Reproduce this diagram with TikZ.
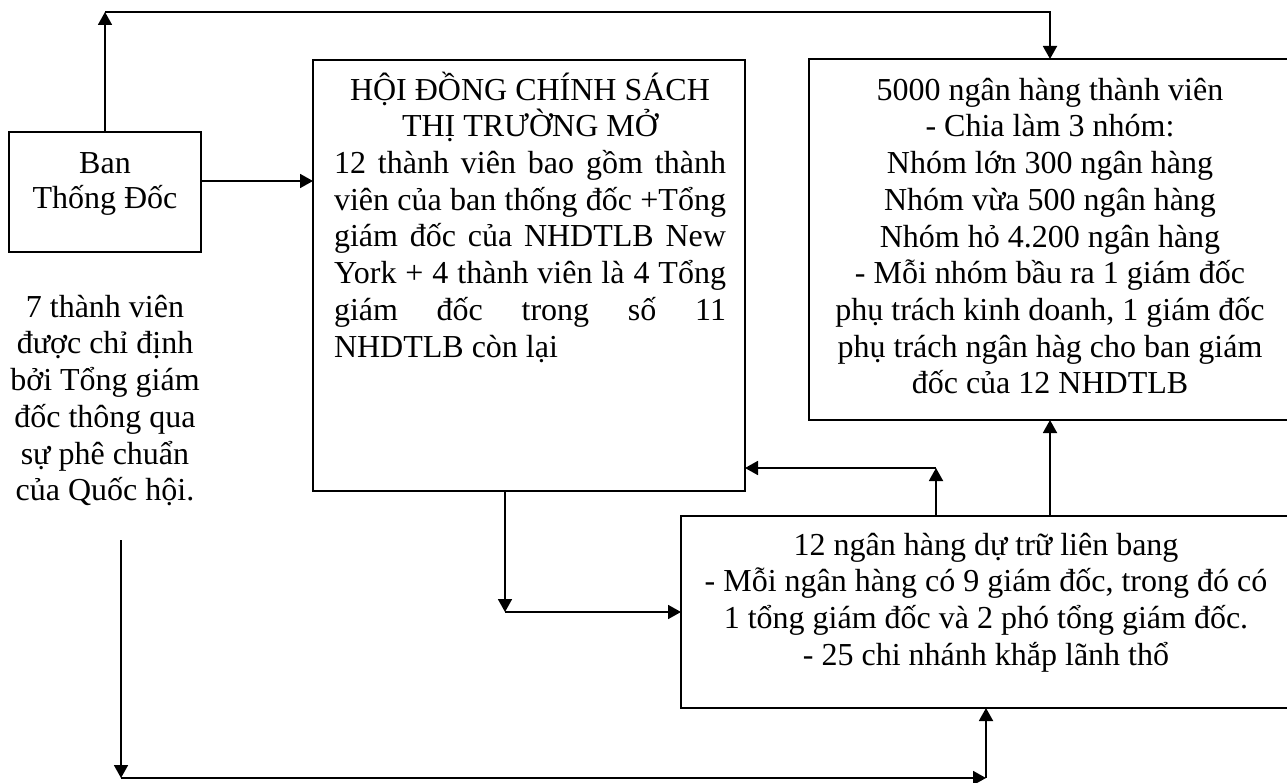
\documentclass[tikz,border=0pt]{standalone}
\usepackage{fontspec}
\setmainfont{Liberation Serif}
\usetikzlibrary{arrows.meta}
\begin{document}
\begin{tikzpicture}[x=1pt,y=-1pt,
  box/.style={draw, line width=1.8pt, inner sep=0pt, outer sep=0pt, anchor=north west},
  conn/.style={line width=1.8pt, -{Triangle[length=13pt,width=14pt]}},
  txt/.style={font=\fontsize{32}{36.7}\selectfont, inner sep=0pt, anchor=north, align=center}]
\useasboundingbox (0,0) rectangle (1287,783);
% boxes
\node[box, minimum width=192pt, minimum height=120pt] (ban) at (9,132) {};
\node[box, minimum width=432pt, minimum height=431pt] (hd) at (313,60) {};
\node[box, minimum width=482pt, minimum height=361pt] (m5000) at (809,59) {};
\node[box, minimum width=610pt, minimum height=192pt] (ft12) at (681,516) {};
% texts
\node[txt, font=\fontsize{32}{35}\selectfont] (bantext) at (105,143) {\rule{0pt}{30pt}Ban\\Thống Đốc};
\node[txt] (lefttext) at (105,287) {\rule{0pt}{30pt}7 thành viên\\được chỉ định\\bởi Tổng giám\\đốc thông qua\\sự phê chuẩn\\của Quốc hội.};
\node[txt] (hdtext) at (530,70) {\rule{0pt}{30pt}HỘI ĐỒNG CHÍNH SÁCH\\THỊ TRƯỜNG MỞ\\
\makebox[392pt][s]{12 thành viên bao gồm thành}\\
\makebox[392pt][s]{viên của ban thống đốc +Tổng}\\
\makebox[392pt][s]{giám đốc của NHDTLB New}\\
\makebox[392pt][s]{York + 4 thành viên là 4 Tổng}\\
\makebox[392pt][s]{giám đốc trong số 11}\\
\makebox[392pt][l]{NHDTLB còn lại}};
\node[txt] (m5000text) at (1050,70) {\rule{0pt}{30pt}5000 ngân hàng thành viên\\- Chia làm 3 nhóm:\\Nhóm lớn 300 ngân hàng\\Nhóm vừa 500 ngân hàng\\Nhóm hỏ 4.200 ngân hàng\\- Mỗi nhóm bầu ra 1 giám đốc\\phụ trách kinh doanh, 1 giám đốc\\phụ trách ngân hàg cho ban giám\\đốc của 12 NHDTLB};
\node[txt] (ft12text) at (986,525) {\rule{0pt}{30pt}12 ngân hàng dự trữ liên bang\\- Mỗi ngân hàng có 9 giám đốc, trong đó có\\1 tổng giám đốc và 2 phó tổng giám đốc.\\- 25 chi nhánh khắp lãnh thổ};
% connectors
\coordinate (tl) at (105,12);
\draw[conn] (ban.north) -- (tl);
\draw[conn] (tl) -| (m5000.north);
\coordinate (bh) at (0,181);
\draw[conn] (ban.east |- bh) -- (hd.west |- bh);
\coordinate (hdc) at (505,612);
\draw[conn] (hd.south -| hdc) -- (hdc);
\draw[conn] (hdc) -- (ft12.west |- hdc);
\coordinate (fc) at (936,468);
\draw[conn] (ft12.north -| fc) -- (fc);
\draw[conn] (fc) -- (hd.east |- fc);
\draw[conn] (ft12.north -| m5000.south) -- (m5000.south);
\coordinate (ls) at (121,540);
\coordinate (lb) at (121,778);
\coordinate (rb) at (ft12.south |- lb);
\draw[conn] (ls) -- (lb);
\draw[conn] (lb) -- (rb);
\draw[conn] (rb) -- (ft12.south);
\end{tikzpicture}
\end{document}
